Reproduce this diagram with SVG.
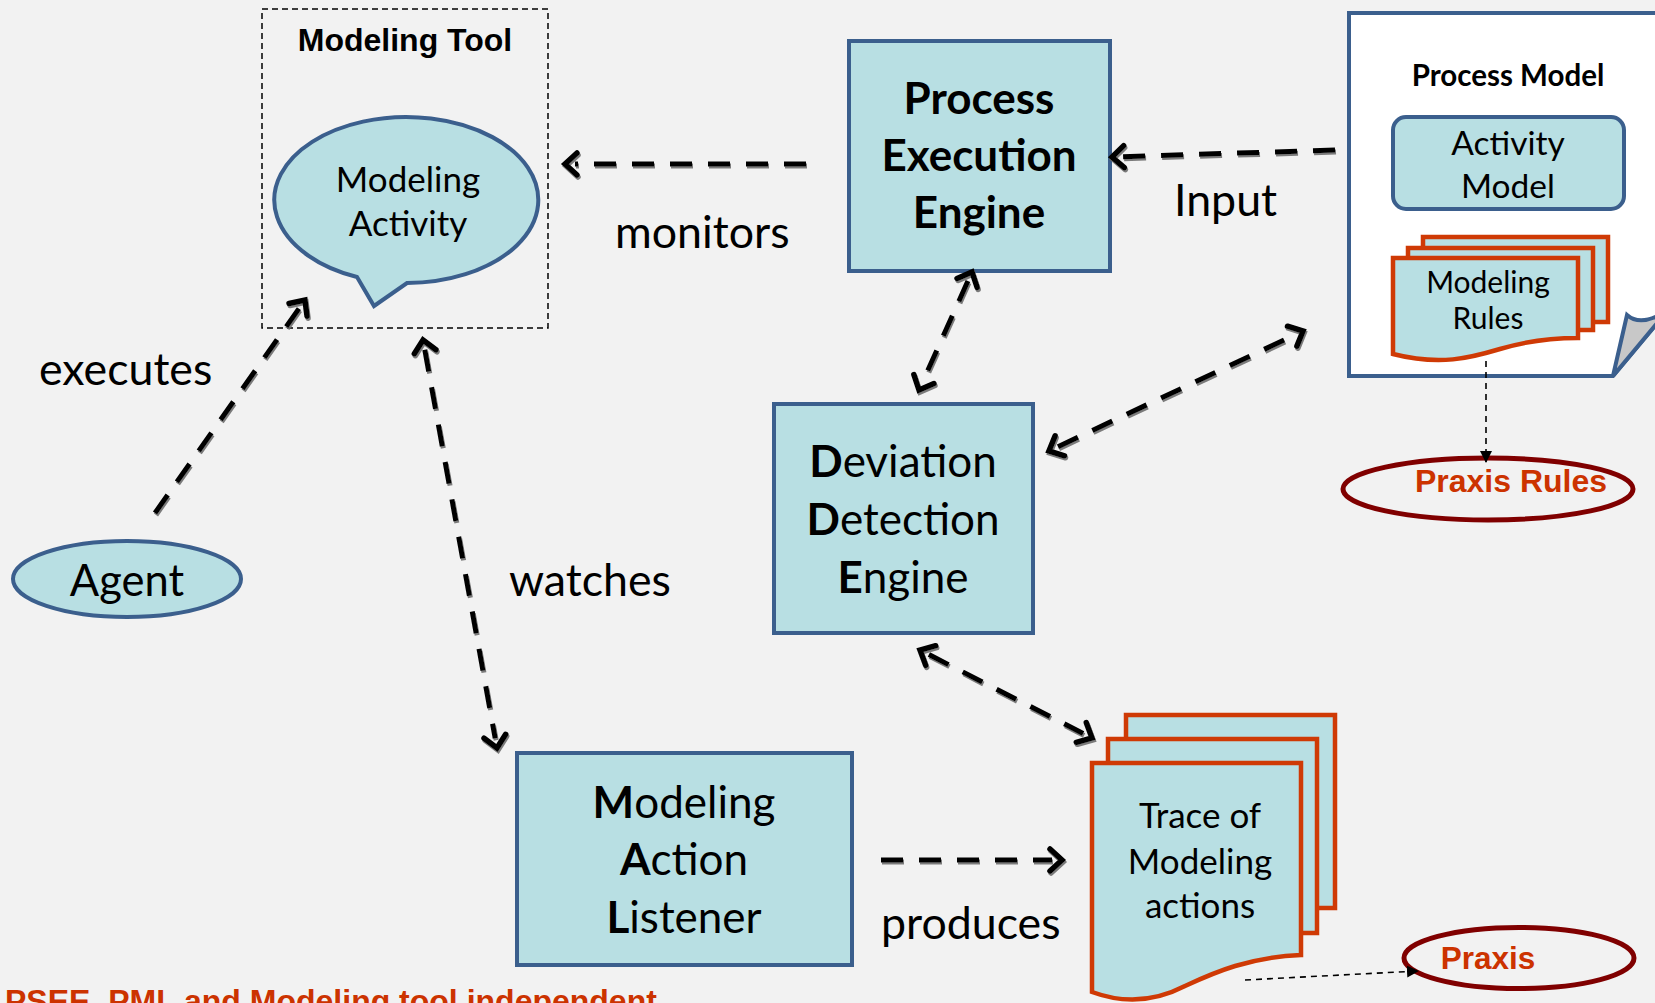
<svg xmlns="http://www.w3.org/2000/svg" width="1655" height="1003" viewBox="0 0 1655 1003">
  <defs>
    <style>
      .shape { fill: #b8dfe3; stroke: #3b5f8d; stroke-width: 4; }
      .sheet { fill: #b8dfe3; stroke: #cf3a05; stroke-width: 4.5; stroke-linejoin: miter; }
      .oval { fill: none; stroke: #800000; stroke-width: 5; }
      .t { font-family: Lato, "Open Sans", sans-serif; fill: #000; text-anchor: middle; }
      .b { font-weight: bold; }
      .lbl { font-family: Lato, "Open Sans", sans-serif; font-size: 44.7px; fill: #000; }
      .arial { font-family: "Liberation Sans", Arial, sans-serif; font-weight: bold; }
      .red { fill: #cc3300; }
      .flow { fill: none; stroke: #000; stroke-width: 5; stroke-dasharray: 22 16; }
      .thin { fill: none; stroke: #000; stroke-width: 1.6; stroke-dasharray: 6 5; }
    </style>
    <marker id="open" markerUnits="userSpaceOnUse" viewBox="0 0 18 28" markerWidth="18" markerHeight="28" refX="5" refY="14" orient="auto-start-reverse" overflow="visible">
      <path d="M3,3 L15,14 L3,25" fill="none" stroke="#000" stroke-width="5.5" stroke-linejoin="miter" stroke-linecap="round"/>
    </marker>
    <marker id="tri" markerUnits="userSpaceOnUse" viewBox="0 0 12 12" markerWidth="12" markerHeight="12" refX="11" refY="6" orient="auto">
      <path d="M0,0 L12,6 L0,12 Z" fill="#000"/>
    </marker>
    <filter id="shadow" x="-10%" y="-10%" width="120%" height="120%">
      <feDropShadow dx="1" dy="2" stdDeviation="0.6" flood-color="#6e6e6e" flood-opacity="0.9"/>
    </filter>
  </defs>

  <rect width="1655" height="1003" fill="#f2f2f2"/>

  <!-- Modeling tool container with speech-bubble activity -->
  <g id="modeling-tool">
    <rect x="262" y="9" width="286" height="319" fill="none" stroke="#000" stroke-width="1.5" stroke-dasharray="6 4"/>
    <text class="arial" x="405" y="51" font-size="32" text-anchor="middle">Modeling Tool</text>
  </g>
  <g id="modeling-activity">
    <path class="shape" d="M357,277 L374,306 L407,283 A132,83 0 1 0 357,277 Z"/>
    <text class="t" x="408" y="192" font-size="35">Modeling</text>
    <text class="t" x="408" y="236" font-size="35">Activity</text>
  </g>

  <g id="agent">
    <ellipse class="shape" cx="127" cy="579" rx="114" ry="38"/>
    <text class="t" x="127" y="596" font-size="43.5">Agent</text>
  </g>

  <g id="process-execution-engine">
    <rect class="shape" x="849" y="41" width="261" height="230"/>
    <text class="t b" x="979" y="114" font-size="44">Process</text>
    <text class="t b" x="979" y="171" font-size="44">Execution</text>
    <text class="t b" x="979" y="228" font-size="44">Engine</text>
  </g>

  <g id="deviation-detection-engine">
    <rect class="shape" x="774" y="404" width="259" height="229"/>
    <text class="t" x="903" y="477" font-size="44"><tspan class="b">D</tspan>eviation</text>
    <text class="t" x="903" y="535" font-size="44"><tspan class="b">D</tspan>etection</text>
    <text class="t" x="903" y="593" font-size="44"><tspan class="b">E</tspan>ngine</text>
  </g>

  <g id="modeling-action-listener">
    <rect class="shape" x="517" y="753" width="335" height="212"/>
    <text class="t" x="684" y="818" font-size="44"><tspan class="b">M</tspan>odeling</text>
    <text class="t" x="684" y="875" font-size="44"><tspan class="b">A</tspan>ction</text>
    <text class="t" x="684" y="933" font-size="44"><tspan class="b">L</tspan>istener</text>
  </g>

  <!-- Process model page with folded corner -->
  <g id="process-model">
    <path d="M1349,13 H1700 V272 L1613,376 H1349 Z" fill="#ffffff" stroke="#3b5f8d" stroke-width="4" stroke-linejoin="miter"/>
    <path d="M1613,376 L1627,315 C1636,323 1650,322 1668,310 Z" fill="#c8c8c8" stroke="#3b5f8d" stroke-width="4" stroke-linejoin="miter"/>
    <text class="t b" x="1508" y="86" font-size="29.5">Process Model</text>
  </g>
  <g id="activity-model">
    <rect class="shape" x="1393" y="117" width="231" height="92" rx="13"/>
    <text class="t" x="1508" y="155" font-size="33.5">Activity</text>
    <text class="t" x="1508" y="198" font-size="33.5">Model</text>
  </g>
  <g id="modeling-rules">
    <rect class="sheet" x="1423" y="237" width="185" height="85"/>
    <rect class="sheet" x="1408" y="248" width="185" height="82"/>
    <path class="sheet" d="M1393,258 H1578 V338 C1545,338 1520,343 1500,349 C1470,358 1440,366 1393,354 Z"/>
    <text class="t" x="1488" y="293" font-size="30">Modeling</text>
    <text class="t" x="1488" y="329" font-size="30">Rules</text>
  </g>

  <g id="praxis-rules">
    <ellipse class="oval" cx="1488" cy="489" rx="145" ry="31"/>
    <text class="arial red" x="1511" y="492" font-size="32" text-anchor="middle">Praxis Rules</text>
  </g>

  <g id="trace">
    <rect class="sheet" x="1126" y="715" width="209" height="193"/>
    <rect class="sheet" x="1108" y="739" width="209" height="194"/>
    <path class="sheet" d="M1092,763 H1301 V955 C1250,957 1215,972 1185,986 C1160,999 1130,1006 1092,992 Z"/>
    <text class="t" x="1200" y="828" font-size="35">Trace of</text>
    <text class="t" x="1200" y="874" font-size="35">Modeling</text>
    <text class="t" x="1200" y="918" font-size="35">actions</text>
  </g>

  <g id="praxis">
    <ellipse class="oval" cx="1519" cy="958" rx="115" ry="30.5"/>
    <text class="arial red" x="1488" y="969" font-size="31.5" text-anchor="middle">Praxis</text>
  </g>

  <!-- Connectors -->
  <g id="connectors">
    <g filter="url(#shadow)">
      <line class="flow" x1="806" y1="164" x2="575" y2="164" marker-end="url(#open)"/>
      <line class="flow" x1="1335" y1="150" x2="1122" y2="156.7" marker-end="url(#open)"/>
      <line class="flow" x1="155" y1="513" x2="299.2" y2="308.2" marker-end="url(#open)"/>
      <line class="flow" x1="424.8" y1="349.8" x2="495.2" y2="738.2" marker-start="url(#open)" marker-end="url(#open)"/>
      <line class="flow" x1="967.9" y1="281.1" x2="923.1" y2="380.9" marker-start="url(#open)" marker-end="url(#open)"/>
      <line class="flow" x1="1058" y1="446.7" x2="1294" y2="335.3" marker-start="url(#open)" marker-end="url(#open)"/>
      <line class="flow" x1="928.9" y1="654.6" x2="1083.1" y2="733.4" marker-start="url(#open)" marker-end="url(#open)"/>
      <line class="flow" x1="881" y1="860" x2="1052" y2="860" marker-end="url(#open)"/>
    </g>
    <line class="thin" x1="1486" y1="361" x2="1486" y2="462" marker-end="url(#tri)"/>
    <line class="thin" x1="1245" y1="980" x2="1418" y2="971" marker-end="url(#tri)"/>
  </g>

  <!-- Connector labels -->
  <g id="labels">
    <text class="lbl" x="39" y="385">executes</text>
    <text class="lbl" x="615" y="248">monitors</text>
    <text class="lbl" x="1174" y="216">Input</text>
    <text class="lbl" x="509" y="596">watches</text>
    <text class="lbl" x="881" y="939">produces</text>
  </g>

  <text class="arial red" x="5" y="1012" font-size="32">PSEE, PML and Modeling tool independent</text>
</svg>
